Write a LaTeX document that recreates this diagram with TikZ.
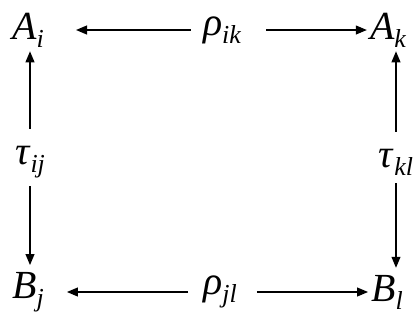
\documentclass[tikz,border=0pt]{standalone}
\usepackage{fontspec}
\setmainfont{Liberation Serif}
\usetikzlibrary{arrows.meta,positioning}
\newcommand{\sbs}[1]{\raisebox{-8bp}{\fontsize{26}{30}\selectfont\itshape #1}}
\newcommand{\lbl}[2]{\textit{#1}\sbs{#2}}

\begin{document}
\begin{tikzpicture}[x=1bp,y=-1bp,
  every node/.style={font=\fontsize{40}{46}\selectfont,inner sep=0pt},
  arr/.style={-{Triangle[length=11bp,width=9bp]},line width=1.1bp}]
\useasboundingbox (0,0) rectangle (417,323);
\node (Ai) at (28,30) {\lbl{A}{i}};
\node (rhoik) at (222,30) {\lbl{ρ}{ik}};
\node (Ak) at (388,30) {\lbl{A}{k}};
\node (tauij) at (30,162) {\lbl{τ}{ij}};
\node (taukl) at (396,162) {\lbl{τ}{kl}};
\node (Bj) at (28,292) {\lbl{B}{j}};
\node (rhojl) at (220,292) {\lbl{ρ}{jl}};
\node (Bl) at (387,292) {\lbl{B}{l}};
% top row
\draw[arr,shorten <=12bp,shorten >=32bp] (rhoik.west) -- (rhoik.west -| Ai.east);
\draw[arr,shorten <=25bp,shorten >=3bp] (rhoik.east) -- (rhoik.east -| Ak.west);
% bottom row
\draw[arr,shorten <=15bp,shorten >=23bp] (rhojl.west) -- (rhojl.west -| Bj.east);
\draw[arr,shorten <=20bp,shorten >=3bp] (rhojl.east) -- (rhojl.east -| Bl.west);
% columns
\draw[arr,shorten <=17bp,shorten >=4bp] (tauij.north) -- (tauij.north |- Ai.south);
\draw[arr,shorten <=8bp,shorten >=7bp] (tauij.south) -- (tauij.south |- Bj.north);
\draw[arr,shorten <=17bp,shorten >=4bp] (taukl.north) -- (taukl.north |- Ak.south);
\draw[arr,shorten <=8bp,shorten >=7bp] (taukl.south) -- (taukl.south |- Bl.north);
\end{tikzpicture}
\end{document}
